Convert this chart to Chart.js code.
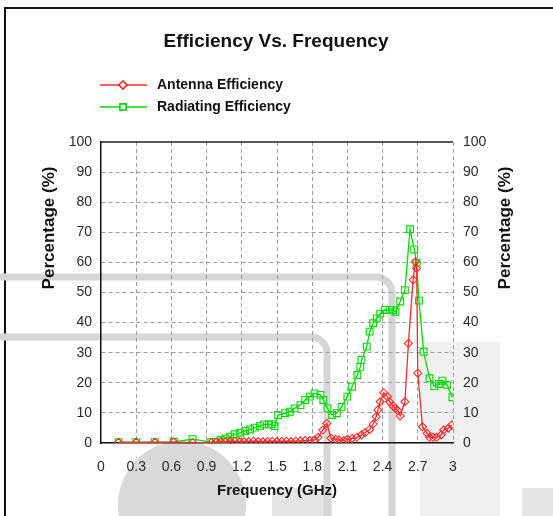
<!DOCTYPE html>
<html>
<head>
<meta charset="utf-8">
<script src="https://cdn.jsdelivr.net/npm/chart.js@4.4.0/dist/chart.umd.min.js"></script>
<style>
  body { margin: 0; background: #fff; }
  #wrap { position: relative; width: 553px; height: 516px; overflow: hidden; }
  #frame { position: absolute; left: 4px; top: 7px; width: 600px; height: 600px;
           border-top: 2px solid #111; border-left: 2px solid #111; }
  canvas { position: absolute; left: 0; top: 0; }
</style>
</head>
<body>
<div id="wrap">
  <div id="frame"></div>
  <canvas id="myChart" width="553" height="516"></canvas>
</div>
<script>
// values (frequency in GHz, efficiency in %)
const antennaFreq = [0.15, 0.3, 0.46, 0.62, 0.78, 0.94, 0.98, 1.02, 1.06, 1.10, 1.14, 1.18, 1.22, 1.26,
  1.30, 1.34, 1.38, 1.42, 1.46, 1.50, 1.54, 1.58, 1.62, 1.66, 1.70, 1.74, 1.78, 1.82, 1.85, 1.89,
  1.925, 1.96, 2.0, 2.03, 2.07, 2.10, 2.14, 2.18, 2.22, 2.25, 2.29, 2.32, 2.345, 2.36, 2.38, 2.41,
  2.44, 2.46, 2.49, 2.51, 2.53, 2.55, 2.59, 2.62, 2.66, 2.68, 2.69, 2.70, 2.74, 2.78, 2.80, 2.83,
  2.86, 2.90, 2.92, 2.96, 2.99];
const antennaEff = [0.2, 0.2, 0.2, 0.3, 0.1, 0.1, 0.3, 0.5, 0.4, 0.5, 0.6, 0.4, 0.5, 0.5,
  0.6, 0.5, 0.4, 0.5, 0.6, 0.5, 0.5, 0.6, 0.5, 0.6, 0.7, 0.8, 0.8, 1.0, 1.9, 4.3,
  6.5, 1.6, 1.2, 1.0, 0.8, 1.2, 1.5, 1.9, 2.7, 3.4, 4.5, 6.3, 8.7, 11, 13.7, 16.7,
  15.4, 13.7, 12.3, 11.5, 10.7, 9.0, 13.7, 33.1, 54.2, 60.2, 58, 23.2, 5.4, 3.2, 1.9, 1.9,
  1.9, 2.7, 4.3, 4.9, 6.0];

const radiatingFreq = [0.15, 0.3, 0.46, 0.62, 0.78, 0.94, 0.98, 1.02, 1.06, 1.10, 1.14, 1.185, 1.23,
  1.27, 1.31, 1.355, 1.39, 1.43, 1.46, 1.48, 1.51, 1.57, 1.61, 1.65, 1.70, 1.74, 1.78, 1.82,
  1.87, 1.895, 1.93, 1.97, 2.01, 2.05, 2.10, 2.14, 2.185, 2.21, 2.22, 2.265, 2.29, 2.32, 2.35,
  2.38, 2.42, 2.46, 2.49, 2.51, 2.55, 2.59, 2.634, 2.67, 2.69, 2.71, 2.75, 2.80, 2.84, 2.88,
  2.91, 2.95, 2.995];
const radiatingEff = [0.3, 0.3, 0.3, 0.4, 1.3, 0.3, 0.3, 1.0, 1.5, 2.1, 2.9, 3.4, 4.0,
  4.5, 5.1, 5.6, 6.2, 6.2, 6.2, 5.6, 9.3, 9.9, 10.4, 11.5, 12.6, 14.3, 15.4, 16.5,
  16, 14.3, 11.5, 9.3, 9.9, 12, 15.4, 18.7, 22.6, 25.3, 27.6, 32, 37, 39.8, 41.4,
  43, 44.2, 44.2, 44.2, 43.6, 47, 50.8, 71, 64.3, 59.9, 47.3, 30.3, 21.5, 18.9, 19.6,
  20.7, 19.3, 15.2];

const seriesNames = ['Antenna Efficiency', 'Radiating Efficiency'];
const titleText = 'Efficiency Vs. Frequency';
const xTitle = 'Frequency (GHz)';
const yTitle = 'Percentage (%)';

const RED = '#ff2b2b';
const GREEN = '#00dc00';
const FONT = '"Liberation Sans", Arial, sans-serif';

function pairs(xs, ys) {
  return xs.map((x, i) => ({ x: x, y: ys[i] }));
}

// faint grey watermark behind the picture
const watermark = {
  id: 'watermark',
  beforeDraw(chart) {
    const ctx = chart.ctx;
    ctx.save();
    ctx.fillStyle = '#f0f0f0';
    ctx.fillRect(420, 342, 80, 180);
    ctx.fillStyle = '#e4e4e4';
    ctx.fillRect(272, 488, 60, 30);
    ctx.fillRect(522, 488, 31, 30);
    ctx.fillStyle = '#d9d9d9';
    ctx.beginPath();
    ctx.arc(182, 505, 64, 0, Math.PI * 2);
    ctx.fill();
    ctx.strokeStyle = '#d6d6d6';
    ctx.lineWidth = 7;
    ctx.beginPath();
    ctx.moveTo(0, 277);
    ctx.lineTo(378, 277);
    ctx.arcTo(392, 277, 392, 300, 16);
    ctx.lineTo(392, 520);
    ctx.stroke();
    ctx.beginPath();
    ctx.moveTo(0, 337);
    ctx.lineTo(312, 337);
    ctx.arcTo(327, 337, 327, 360, 16);
    ctx.lineTo(327, 520);
    ctx.stroke();
    ctx.restore();
  }
};

const decor = {
  id: 'decor',
  afterDraw(chart) {
    const { ctx, chartArea: a } = chart;
    ctx.save();
    // solid top frame of the plot
    ctx.strokeStyle = '#222';
    ctx.lineWidth = 1.5;
    ctx.beginPath();
    ctx.moveTo(a.left, a.top);
    ctx.lineTo(a.right, a.top);
    ctx.stroke();

    ctx.fillStyle = '#111';
    ctx.textBaseline = 'middle';
    ctx.textAlign = 'center';
    ctx.font = 'bold 19px ' + FONT;
    ctx.fillText(titleText, 276, 42);

    // legend
    const rows = [
      { y: 85, color: RED, style: 'rectRot', r: 4 },
      { y: 107, color: GREEN, style: 'rect', r: 4.3 }
    ];
    rows.forEach((row, i) => {
      ctx.strokeStyle = row.color;
      ctx.lineWidth = 1.5;
      ctx.beginPath();
      ctx.moveTo(100, row.y);
      ctx.lineTo(147, row.y);
      ctx.stroke();
      ctx.fillStyle = '#fff';
      Chart.helpers.drawPoint(ctx, { pointStyle: row.style, radius: row.r, rotation: 0, borderWidth: 1.2 }, 123, row.y);
      ctx.fill();
      ctx.stroke();
      ctx.fillStyle = '#111';
      ctx.textAlign = 'left';
      ctx.font = 'bold 14px ' + FONT;
      ctx.fillText(seriesNames[i], 157, row.y);
    });

    // axis titles
    ctx.textAlign = 'center';
    ctx.font = 'bold 15px ' + FONT;
    ctx.fillText(xTitle, 277, 491);
    [49, 505].forEach(x => {
      ctx.save();
      ctx.translate(x, 228);
      ctx.rotate(-Math.PI / 2);
      ctx.font = 'bold 17px ' + FONT;
      ctx.fillText(yTitle, 0, 0);
      ctx.restore();
    });
    ctx.restore();
  }
};

const gridColor = c => (c.tick && (c.tick.value === 0 || c.tick.value === 100)) ? 'rgba(0,0,0,0)' : '#9c9c9c';

new Chart(document.getElementById('myChart'), {
  type: 'line',
  data: {
    datasets: [{
      label: seriesNames[0],
      data: pairs(antennaFreq, antennaEff),
      borderColor: RED,
      borderWidth: 1.3,
      pointStyle: 'rectRot',
      pointRadius: 4,
      pointBorderColor: RED,
      pointBorderWidth: 1.1,
      pointBackgroundColor: 'rgba(255,255,255,0)',
      tension: 0
    }, {
      label: seriesNames[1],
      data: pairs(radiatingFreq, radiatingEff),
      borderColor: GREEN,
      borderWidth: 1.3,
      pointStyle: 'rect',
      pointRadius: 4.8,
      pointBorderColor: GREEN,
      pointBorderWidth: 1.1,
      pointBackgroundColor: 'rgba(255,255,255,0)',
      tension: 0
    }]
  },
  options: {
    responsive: false,
    animation: false,
    layout: { padding: { top: 142, left: 0, right: 0, bottom: 0 } },
    plugins: { legend: { display: false }, tooltip: { enabled: false } },
    scales: {
      x: {
        type: 'linear',
        min: 0, max: 3,
        ticks: { stepSize: 0.3, padding: 16, color: '#2a2a2a', font: { family: FONT, size: 14 },
                 callback: v => String(Math.round(v * 10) / 10) },
        grid: { color: c => (c.tick && (c.tick.value === 0)) ? 'rgba(0,0,0,0)' : '#9c9c9c', drawTicks: false, lineWidth: 1 },
        border: { display: true, color: '#111', width: 1.5, dash: [4, 3] },
        afterFit: s => { s.height = 73; }
      },
      y: {
        position: 'left',
        min: 0, max: 100,
        ticks: { stepSize: 10, padding: 9, color: '#2a2a2a', font: { family: FONT, size: 14 } },
        grid: { color: gridColor, drawTicks: false, lineWidth: 1 },
        border: { display: true, color: '#111', width: 1.5, dash: [4, 3] },
        afterFit: s => { s.width = 101; }
      },
      y2: {
        position: 'right',
        min: 0, max: 100,
        ticks: { stepSize: 10, padding: 10, color: '#2a2a2a', font: { family: FONT, size: 14 } },
        grid: { drawOnChartArea: false, drawTicks: false },
        border: { display: false },
        afterFit: s => { s.width = 100; }
      }
    }
  },
  plugins: [watermark, decor]
});
</script>
</body>
</html>
